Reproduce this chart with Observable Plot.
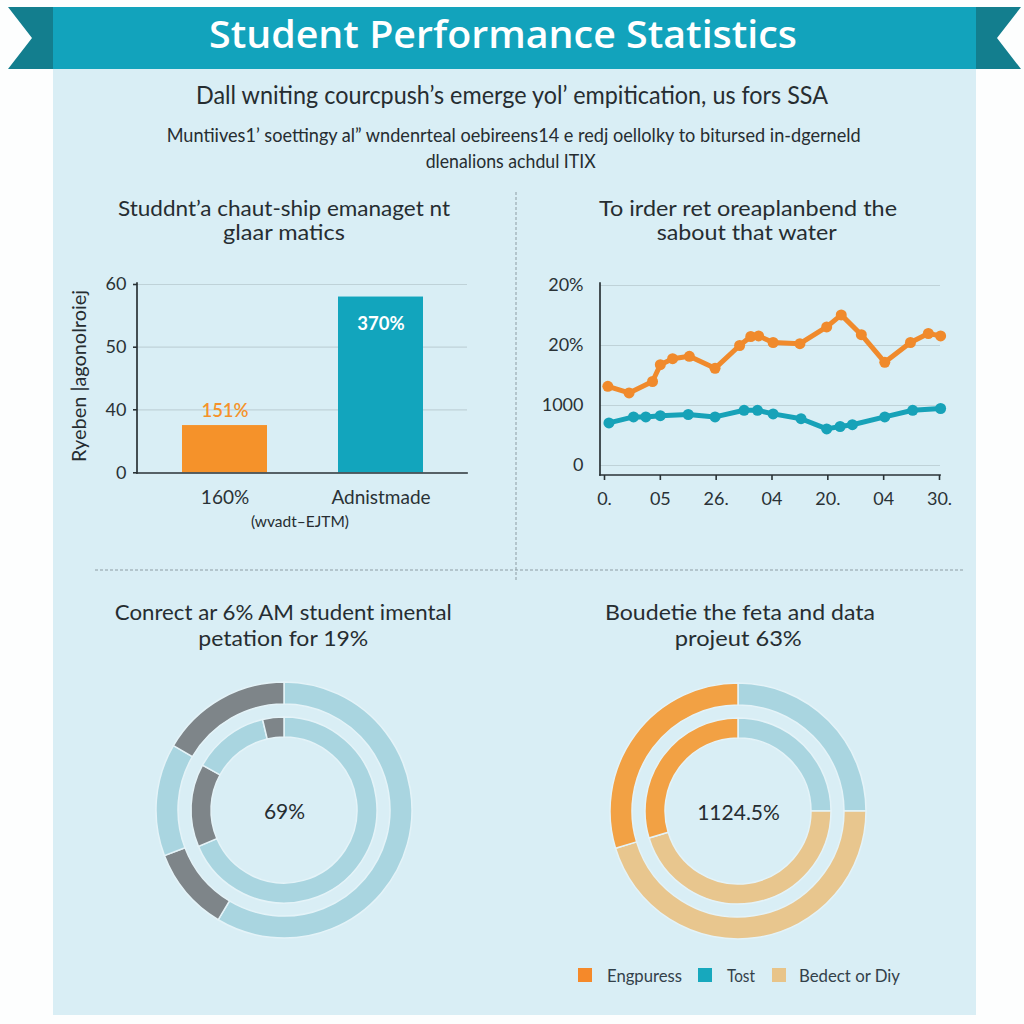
<!DOCTYPE html>
<html><head><meta charset="utf-8">
<script src="https://cdn.jsdelivr.net/npm/d3@7"></script>
<script src="https://cdn.jsdelivr.net/npm/@observablehq/plot@0.6"></script>
<style>
html,body{margin:0;padding:0;background:#fdfefe;}
#root{position:relative;width:1024px;height:1024px;overflow:hidden;font-family:Lato,"Open Sans",sans-serif;}
#root svg{position:absolute;}
</style></head><body><div id="root"></div>
<script>
// ---------- data ----------
const headerTitle = "Student Performance Statistics";
const subtitleLines = [
  "Dall wniting courcpush\u2019s emerge yol\u2019 empitication, us fors SSA",
  "Muntiives1\u2019 soettingy al\u201d wndenrteal oebireens14 e redj oellolky to bitursed in-dgerneld",
  "dlenalions achdul ITIX"
];
const barTitle = ["Studdnt\u2019a chaut-ship emanaget nt", "glaar matics"];
const barCategories = ["160%", "Adnistmade"];
const barValues = [30, 58];
const barLabels = ["151%", "370%"];
const barColors = ["#f5922a", "#12a5bd"];
const barTicks = [0, 40, 50, 60];
const barYLabel = "Ryeben |agonolroiej";
const barXNote = "(wvadt\u2013EJTM)";

const lineTitle = ["To irder ret oreaplanbend the", "sabout that water"];
const lineXTicks = [0, 5, 10, 15, 20, 25, 30];
const lineXLabels = ["0.", "05", "26.", "04", "20.", "04", "30."];
const lineYTicks = [0, 10, 20, 30];
const lineYLabels = ["0", "1000", "20%", "20%"];
const orangeX = [0.3, 2.2, 4.3, 5.0, 6.1, 7.6, 9.9, 12.1, 13.1, 13.8, 15.1, 17.5, 19.9, 21.2, 23.0, 25.1, 27.4, 29.0, 30.1];
const orangeY = [13.2, 12.1, 14.0, 16.8, 17.8, 18.2, 16.2, 20.0, 21.5, 21.6, 20.5, 20.3, 23.1, 25.1, 21.8, 17.2, 20.5, 22.0, 21.6];
const tealX = [0.4, 2.6, 3.7, 5.0, 7.5, 9.9, 12.5, 13.7, 15.1, 17.6, 19.9, 21.1, 22.2, 25.1, 27.6, 30.1];
const tealY = [7.1, 8.1, 8.1, 8.3, 8.5, 8.1, 9.2, 9.2, 8.6, 7.8, 6.1, 6.5, 6.8, 8.1, 9.2, 9.5];
const lineColors = ["#f08a2c", "#17a2b8"];

const donut1Title = ["Conrect ar 6% AM student imental", "petation for 19%"];
const donut1Center = "69%";
const donut1Outer = [58.6, 10.6, 14.2, 16.6];
const donut1OuterColors = ["#a9d5e0", "#7e8589", "#a9d5e0", "#7e8589"];
const donut1Inner = [68.6, 14.4, 13.3, 3.7];
const donut1InnerColors = ["#a9d5e0", "#7e8589", "#a9d5e0", "#7e8589"];

const donut2Title = ["Boudetie the feta and data", "projeut 63%"];
const donut2Center = "1124.5%";
const donut2Outer = [25, 45.3, 29.7];
const donut2Inner = [25, 45.3, 29.7];
const donut2Colors = ["#a9d5e0", "#e8c68e", "#f2a144"];

const legendLabels = ["Engpuress", "Tost", "Bedect or Diy"];
const legendColors = ["#f5892a", "#17a8bd", "#e8c489"];

// ---------- background / decorations ----------
const root = d3.select("#root");
const bg = root.append("svg").attr("width", 1024).attr("height", 1024).style("left", "0px").style("top", "0px");
bg.append("rect").attr("x", 53).attr("y", 69).attr("width", 923).attr("height", 946).attr("fill", "#d9eef5");
bg.append("polygon").attr("points", "8,7 53,7 53,69 8,69 32,38").attr("fill", "#137e8e");
bg.append("polygon").attr("points", "1021,7 976,7 976,69 1021,69 997,38").attr("fill", "#137e8e");
bg.append("rect").attr("x", 53).attr("y", 7).attr("width", 923).attr("height", 62).attr("fill", "#12a3bc");
bg.append("line").attr("x1", 516).attr("x2", 516).attr("y1", 192).attr("y2", 582)
  .attr("stroke", "#8d9ca3").attr("stroke-dasharray", "3,2");
bg.append("line").attr("x1", 95).attr("x2", 965).attr("y1", 570).attr("y2", 570)
  .attr("stroke", "#8d9ca3").attr("stroke-dasharray", "3,2");

function label(s, x, y, size, width, opts = {}) {
  const t = bg.append("text").attr("x", x).attr("y", y)
    .attr("text-anchor", opts.anchor || "middle")
    .attr("font-size", size).attr("fill", opts.fill || "#262d31")
    .attr("font-weight", opts.weight || 400)
    .attr("font-family", opts.family || "Lato, 'Open Sans', sans-serif")
    .text(s);
  if (width) t.attr("textLength", width).attr("lengthAdjust", "spacingAndGlyphs");
  if (opts.transform) t.attr("transform", opts.transform);
  return t;
}

label(headerTitle, 503, 48, 37, 588, {fill: "#ffffff", weight: 600, family: "'Open Sans', sans-serif"});
label(subtitleLines[0], 512, 104, 25, 632);
label(subtitleLines[1], 513.7, 141.7, 18.5, 694);
label(subtitleLines[2], 510.7, 168.3, 19, 170);

label(barTitle[0], 284, 216, 21, 332);
label(barTitle[1], 284, 240, 21, 122);
label(lineTitle[0], 748, 216, 21, 298);
label(lineTitle[1], 746.7, 240, 21, 180);
label(donut1Title[0], 283.3, 620, 22, 337);
label(donut1Title[1], 283.3, 646, 22, 170);
label(donut2Title[0], 740, 620, 22, 270);
label(donut2Title[1], 738.3, 646, 22, 127);

label(barYLabel, 0, 0, 18.5, 172, {transform: "translate(86,376) rotate(-90)"});
label(barXNote, 300, 527, 16, 98);

// legend
const legX = [578, 698, 772];
const legTextX = [607, 727, 799];
const legW = [75, 28, 101];
legendLabels.forEach((l, i) => {
  bg.append("rect").attr("x", legX[i]).attr("y", 968).attr("width", 14).attr("height", 14).attr("fill", legendColors[i]);
  label(l, legTextX[i], 981.7, 18, legW[i], {anchor: "start", fill: "#33414a"});
});

function place(svg, left, top) {
  svg.style.left = left + "px";
  svg.style.top = top + "px";
  document.getElementById("root").appendChild(svg);
}

const baseStyle = {background: "transparent", fontFamily: "Lato, 'Open Sans', sans-serif", color: "#2a3236", overflow: "visible"};

// axis lines along the left and bottom edges of the frame
const axisLines = (index, scales, values, d) => {
  const g = d3.create("svg:g").attr("stroke", "#2a3236").attr("stroke-width", 1.7).attr("stroke-linecap", "square");
  g.append("line").attr("x1", d.marginLeft).attr("x2", d.marginLeft).attr("y1", d.marginTop).attr("y2", d.height - d.marginBottom);
  g.append("line").attr("x1", d.marginLeft).attr("x2", d.width - d.marginRight).attr("y1", d.height - d.marginBottom).attr("y2", d.height - d.marginBottom);
  return g.node();
};

// ---------- bar chart ----------
const barData = barCategories.map((c, i) => ({cat: c, value: barValues[i], label: barLabels[i]}));
const barChart = Plot.plot({
  width: 420, height: 240,
  marginLeft: 77, marginRight: 13, marginTop: 13, marginBottom: 37,
  style: {...baseStyle, fontSize: "18px"},
  x: {domain: barCategories, paddingInner: 0.457, paddingOuter: 0.28, label: null},
  y: {type: "linear", domain: barTicks, range: [202.3, 139.3, 76.7, 14], label: null},
  color: {domain: barCategories, range: barColors},
  marks: [
    Plot.gridY(barTicks.slice(1), {stroke: "#bfd2d8", strokeOpacity: 1, strokeWidth: 1.2}),
    Plot.barY(barData, {x: "cat", y: "value", fill: "cat"}),
    Plot.text(barData.slice(0, 1), {x: "cat", y: "value", text: "label", dy: -14, fill: barColors[0], fontSize: 18.5, fontWeight: 600}),
    Plot.text(barData.slice(1), {x: "cat", y: "value", text: "label", dy: 27, fill: "#ffffff", fontSize: 18.5, fontWeight: 700}),
    Plot.axisY(barTicks, {tickSize: 4, tickPadding: 7, fontSize: 18, label: null, stroke: "#2a3236", strokeWidth: 1.6}),
    Plot.axisX({tickSize: 0, tickPadding: 17, fontSize: 19, label: null}),
    axisLines
  ]
});
place(barChart, 60, 270);

// ---------- line chart ----------
const orangeData = orangeX.map((x, i) => ({x, y: orangeY[i]}));
const tealData = tealX.map((x, i) => ({x, y: tealY[i]}));
const xLab = new Map(lineXTicks.map((t, i) => [t, lineXLabels[i]]));
const yLab = new Map(lineYTicks.map((t, i) => [t, lineYLabels[i]]));
const lineChart = Plot.plot({
  width: 440, height: 240,
  marginLeft: 80, marginRight: 20, marginTop: 13, marginBottom: 35,
  style: {...baseStyle, fontSize: "18px"},
  x: {domain: [0, 30], range: [84, 419], label: null},
  y: {domain: [0, 30], range: [195, 15], label: null},
  marks: [
    Plot.gridY(lineYTicks, {stroke: "#bfd2d8", strokeOpacity: 1, strokeWidth: 1.2}),
    Plot.axisY(lineYTicks, {tickFormat: d => yLab.get(d), tickSize: 0, tickPadding: 17, fontSize: 18, label: null}),
    Plot.axisX(lineXTicks, {tickFormat: d => xLab.get(d), tickSize: 5, tickPadding: 12, fontSize: 18, label: null, stroke: "#2a3236", strokeWidth: 1.6}),
    axisLines,
    Plot.line(orangeData, {x: "x", y: "y", stroke: lineColors[0], strokeWidth: 5, strokeLinejoin: "round", strokeLinecap: "round"}),
    Plot.dot(orangeData, {x: "x", y: "y", r: 5.5, fill: lineColors[0]}),
    Plot.line(tealData, {x: "x", y: "y", stroke: lineColors[1], strokeWidth: 5, strokeLinejoin: "round", strokeLinecap: "round"}),
    Plot.dot(tealData, {x: "x", y: "y", r: 5.5, fill: lineColors[1]})
  ]
});
place(lineChart, 520, 270);

// ---------- donuts ----------
function donut(outer, outerColors, inner, innerColors, centerText) {
  const rings = (index, scales, values, dims) => {
    const cx = dims.width / 2, cy = dims.height / 2;
    const g = d3.create("svg:g").attr("transform", `translate(${cx},${cy})`);
    const pie = d3.pie().sort(null).value(d => d);
    const draw = (vals, cols, r0, r1) => {
      const arc = d3.arc().innerRadius(r0).outerRadius(r1);
      g.append("g").selectAll("path").data(pie(vals)).join("path")
        .attr("d", arc).attr("fill", (d, i) => cols[i])
        .attr("stroke", "#e4f3f8").attr("stroke-width", 1.5);
    };
    draw(outer, outerColors, 106, 128);
    draw(inner, innerColors, 73, 93);
    return g.node();
  };
  return Plot.plot({
    width: 300, height: 300, margin: 0,
    style: {...baseStyle},
    marks: [
      rings,
      Plot.text([centerText], {frameAnchor: "middle", text: d => d, fontSize: 21, fill: "#262d31", dy: 2})
    ]
  });
}
place(donut(donut1Outer, donut1OuterColors, donut1Inner, donut1InnerColors, donut1Center), 134, 660);
place(donut(donut2Outer, donut2Colors, donut2Inner, donut2Colors, donut2Center), 588, 661);
</script>
</body></html>
